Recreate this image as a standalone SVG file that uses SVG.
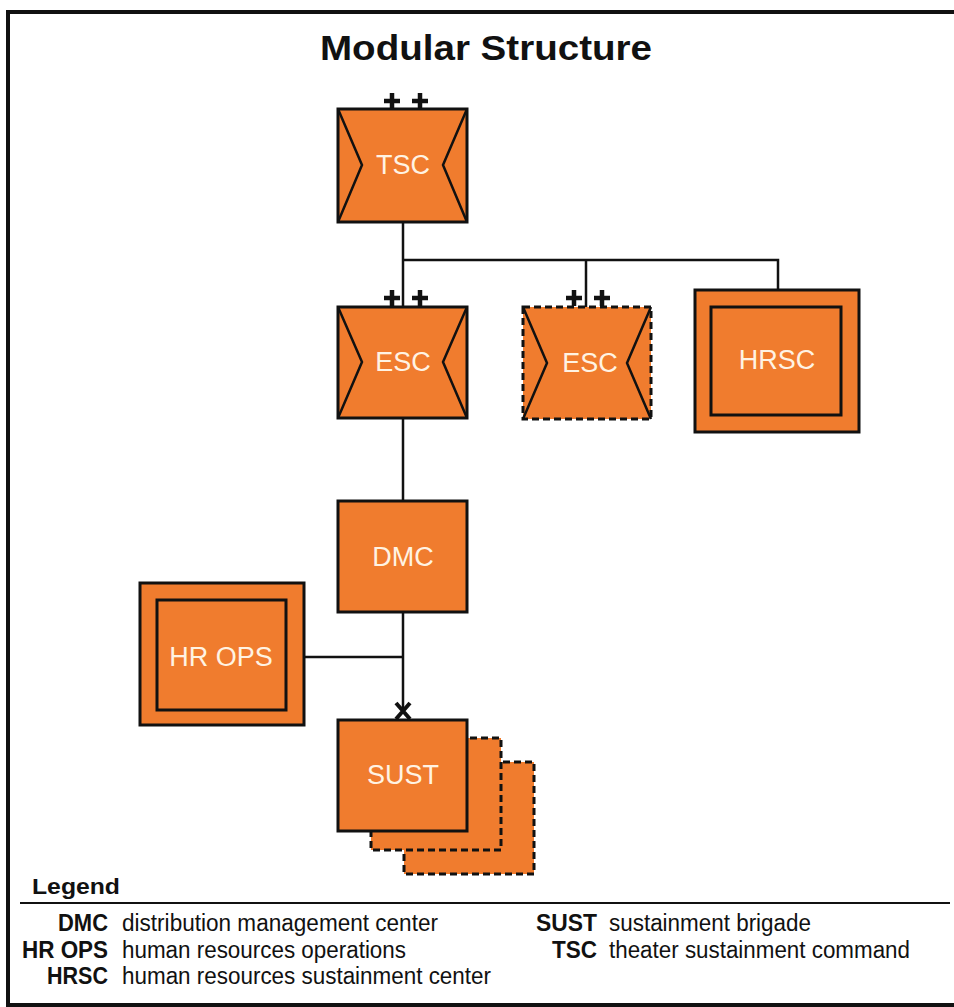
<svg xmlns="http://www.w3.org/2000/svg" width="954" height="1007" viewBox="0 0 954 1007">
<style>
.box{fill:#F07C2E;stroke:#111;stroke-width:3}
.dash{fill:#F07C2E;stroke:#111;stroke-width:3;stroke-dasharray:7 4}
.ln{fill:none;stroke:#111;stroke-width:2.5}
.lbl{font-family:"Liberation Sans",Arial,sans-serif;font-size:27px;fill:#FFF3E3;text-anchor:middle}
.plus{stroke:#111;stroke-width:4.5;fill:none}
.ab{font-family:"Liberation Sans",Arial,sans-serif;font-size:23px;font-weight:bold;fill:#111;text-anchor:end}
.ds{font-family:"Liberation Sans",Arial,sans-serif;font-size:23px;fill:#111}
</style>
<rect x="0" y="0" width="954" height="1007" fill="#fff"/>
<rect x="8" y="12" width="960" height="993" fill="none" stroke="#111" stroke-width="4"/>
<text x="320" y="60" font-family="Liberation Sans,Arial,sans-serif" font-size="35" font-weight="bold" fill="#111" textLength="332" lengthAdjust="spacingAndGlyphs">Modular Structure</text>

<g id="connectors">
<path class="ln" d="M403 222V307M403 260H778V290M586 260V307M403 418V501M403 612V712M304 657H403"/>
<path d="M396 703L410 719M410 703L396 719" stroke="#111" stroke-width="4"/>
</g>

<g id="tsc">
<path class="plus" d="M384 101h16M392 93v16M412 101h16M420 93v16"/>
<rect class="box" x="338" y="109" width="129" height="113"/>
<path class="ln" d="M338 109L362 165L338 222M467 109L443 165L467 222"/>
<text class="lbl" x="403" y="174">TSC</text>
</g>

<g id="esc1">
<path class="plus" d="M384 298h16M392 290v16M412 298h16M420 290v16"/>
<rect class="box" x="338" y="307" width="129" height="111"/>
<path class="ln" d="M338 307L362 362L338 418M467 307L443 362L467 418"/>
<text class="lbl" x="403" y="371">ESC</text>
</g>

<g id="esc2">
<path class="plus" d="M566 298h16M574 290v16M594 298h16M602 290v16"/>
<rect class="dash" x="523" y="307" width="128" height="112"/>
<path class="ln" d="M523 307L547 363L523 419M651 307L627 363L651 419"/>
<text class="lbl" x="590" y="372">ESC</text>
</g>

<g id="hrsc">
<rect class="box" x="695" y="290" width="164" height="142"/>
<rect class="box" x="711" y="307" width="130" height="108"/>
<text class="lbl" x="777" y="369">HRSC</text>
</g>

<g id="dmc">
<rect class="box" x="338" y="501" width="129" height="111"/>
<text class="lbl" x="403" y="566">DMC</text>
</g>

<g id="hrops">
<rect class="box" x="140" y="583" width="164" height="142"/>
<rect class="box" x="157" y="600" width="129" height="110"/>
<text class="lbl" x="221" y="666">HR OPS</text>
</g>

<g id="sust">
<rect class="dash" x="404" y="762" width="130" height="112"/>
<rect class="dash" x="371" y="738" width="130" height="112"/>
<rect class="box" x="338" y="720" width="129" height="111"/>
<text class="lbl" x="403" y="784">SUST</text>
</g>

<g id="legend">
<text x="32" y="894" font-family="Liberation Sans,Arial,sans-serif" font-size="22" font-weight="bold" fill="#111" textLength="88" lengthAdjust="spacingAndGlyphs">Legend</text>
<line x1="20" y1="903" x2="950" y2="903" stroke="#111" stroke-width="2"/>
<text class="ab" x="108" y="931" textLength="50" lengthAdjust="spacingAndGlyphs">DMC</text>
<text class="ds" x="122" y="931" textLength="316" lengthAdjust="spacingAndGlyphs">distribution management center</text>
<text class="ab" x="108" y="958" textLength="86" lengthAdjust="spacingAndGlyphs">HR OPS</text>
<text class="ds" x="122" y="958" textLength="284" lengthAdjust="spacingAndGlyphs">human resources operations</text>
<text class="ab" x="108" y="984" textLength="61" lengthAdjust="spacingAndGlyphs">HRSC</text>
<text class="ds" x="122" y="984" textLength="369" lengthAdjust="spacingAndGlyphs">human resources sustainment center</text>
<text class="ab" x="597" y="931" textLength="61" lengthAdjust="spacingAndGlyphs">SUST</text>
<text class="ds" x="609" y="931" textLength="202" lengthAdjust="spacingAndGlyphs">sustainment brigade</text>
<text class="ab" x="597" y="958" textLength="45" lengthAdjust="spacingAndGlyphs">TSC</text>
<text class="ds" x="609" y="958" textLength="301" lengthAdjust="spacingAndGlyphs">theater sustainment command</text>
</g>
</svg>
